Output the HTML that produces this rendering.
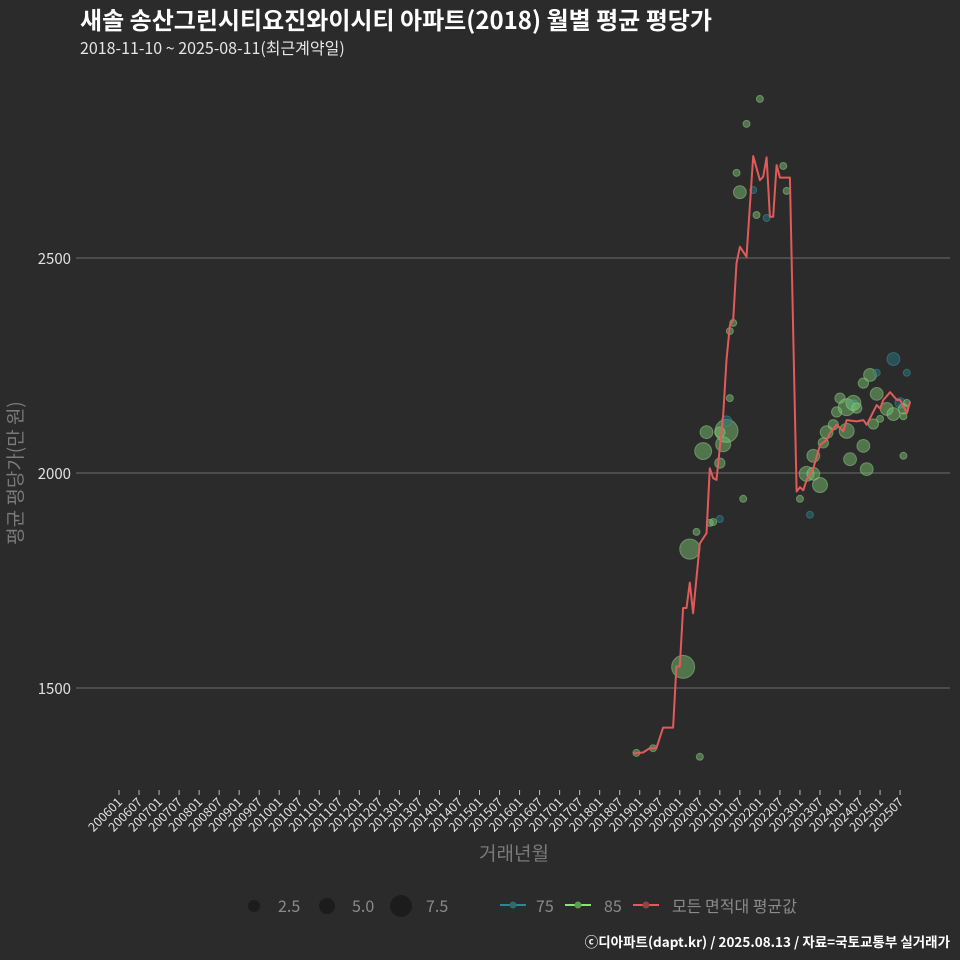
<!DOCTYPE html>
<html><head><meta charset="utf-8">
<style>
html,body{margin:0;padding:0;background:#2b2b2b;}
svg{display:block;font-family:"Noto Sans CJK KR","Liberation Sans",sans-serif;}
</style></head>
<body>
<svg id="chart" width="960" height="960" viewBox="0 0 960 960" xmlns="http://www.w3.org/2000/svg">
<rect width="960" height="960" fill="#2b2b2b"/>
<text x="80" y="29" fill="#ffffff" font-size="24" font-weight="bold">새솔 송산그린시티요진와이시티 아파트(2018) 월별 평균 평당가</text>
<text x="80" y="54" fill="#e6e6e6" font-size="16">2018-11-10 ~ 2025-08-11(최근계약일)</text>
<g id="grid"></g>
<g id="xaxis"></g>
<g id="points"></g>
<g id="line"></g>
<text transform="translate(22,473) rotate(-90)" text-anchor="middle" fill="#7a7a7a" font-size="19">평균 평당가(만 원)</text>
<text x="514" y="860" text-anchor="middle" fill="#7a7a7a" font-size="19">거래년월</text>
<g>
<circle cx="254" cy="906" r="6" fill="#1c1c1c"/>
<text x="278" y="912" fill="#8a8a8a" font-size="16">2.5</text>
<circle cx="327" cy="906" r="8" fill="#1c1c1c"/>
<text x="352" y="912" fill="#8a8a8a" font-size="16">5.0</text>
<circle cx="401" cy="906" r="11" fill="#1c1c1c"/>
<text x="426" y="912" fill="#8a8a8a" font-size="16">7.5</text>
<line x1="500" y1="905" x2="526" y2="905" stroke="#2a8a93" stroke-width="2"/>
<circle cx="513" cy="905" r="3.5" fill="#2a6e6a"/>
<text x="536" y="912" fill="#8a8a8a" font-size="16">75</text>
<line x1="565" y1="905" x2="591" y2="905" stroke="#8fe07f" stroke-width="2"/>
<circle cx="578" cy="905" r="3.5" fill="#5f9a55"/>
<text x="604" y="912" fill="#8a8a8a" font-size="16">85</text>
<line x1="633" y1="905" x2="659" y2="905" stroke="#e35a5a" stroke-width="2"/>
<circle cx="646" cy="905" r="3.5" fill="#9b3f45"/>
<text x="672" y="912" fill="#8a8a8a" font-size="16">모든 면적대 평균값</text>
</g>
<text x="950" y="947" text-anchor="end" fill="#ffffff" font-size="13.5" font-weight="bold">ⓒ디아파트(dapt.kr) / 2025.08.13 / 자료=국토교통부 실거래가</text>
</svg>
<script>
const yTicks = [1500, 2000, 2500];
const lineMonths = ["201811","201902","201904","201906","201908","201911","201912","202001","202002","202003","202004","202005","202007","202009","202010","202011","202012","202102","202103","202104","202105","202106","202107","202109","202111","202201","202202","202203","202204","202205","202206","202207","202210","202212","202301","202302","202303","202305","202307","202309","202310","202312","202402","202403","202406","202408","202409","202412","202501","202502","202504","202506","202507","202509","202510"];
const lineValues = [1348,1350,1360,1360,1408,1408,1550,1550,1686,1686,1745,1674,1836,1860,2011,1988,1984,2135,2263,2344,2356,2488,2526,2503,2737,2681,2689,2734,2596,2596,2716,2687,2687,1957,1967,1960,1984,2011,2065,2077,2093,2112,2097,2123,2120,2123,2112,2158,2150,2170,2188,2170,2170,2139,2166];
const ptMonths = ["201812","201905","202007","202002","202004","202006","202010","202011","202101","202108","202008","202009","202101","202102","202103","202103","202101","202104","202104","202105","202106","202107","202109","202201","202112","202111","202203","202208","202209","202301","202304","202303","202305","202307","202305","202308","202309","202311","202312","202401","202403","202404","202408","202409","202403","202405","202405","202406","202408","202410","202411","202412","202501","202412","202503","202505","202505","202509","202507","202508","202508","202509","202508"];
const ptValues = [1349,1360,1340,1549,1823,1863,1884,1886,1893,1940,2051,2095,2023,2067,2098,2121,2095,2174,2330,2349,2698,2653,2812,2870,2600,2658,2593,2714,2656,1940,1903,1998,1998,1972,2040,2070,2095,2112,2142,2174,2098,2032,2063,2009,2153,2158,2163,2151,2209,2228,2114,2184,2126,2233,2149,2137,2265,2233,2163,2040,2149,2163,2132];
const ptCounts = [1,1,1,9,7,1,1,1,1,1,5,3,2,4,9,2,2,1,1,1,1,3,1,1,1,1,1,1,1,1,1,4,3,4,3,2,3,2,2,2,4,3,3,3,5,2,4,2,2,3,2,3,1,1,3,3,3,1,2,1,2,1,1];
const ptTypes = ["85","85","85","85","85","85","85","85","75","85","85","85","85","85","85","75","85","85","85","85","85","85","85","85","85","75","75","85","85","85","75","85","85","85","85","85","85","85","85","85","85","85","85","85","85","75","85","85","85","85","85","85","85","75","85","85","75","75","75","85","85","85","85"];
const xTickLabels = [];
for (let y = 2006; y <= 2025; y++) { xTickLabels.push(y + "01"); xTickLabels.push(y + "07"); }

const NS = "http://www.w3.org/2000/svg";
function monthIndex(s){ return (parseInt(s.slice(0,4)) - 2006) * 12 + parseInt(s.slice(4,6)) - 1; }
function xScale(s){ return 119 + monthIndex(s) * 3.338; }
function yScale(v){ return 688 - (v - 1500) * 0.43; }
function mk(tag, attrs, parent){ const e = document.createElementNS(NS, tag); for (const k in attrs) e.setAttribute(k, attrs[k]); parent.appendChild(e); return e; }

const grid = document.getElementById("grid");
yTicks.forEach(v => {
  const l = mk("line", {x1: 76, x2: 950, y1: yScale(v), y2: yScale(v), stroke: "#6e6e6e", "stroke-width": 1}, grid);
  
  
  const t = mk("text", {x: 71, y: yScale(v) + 6, "text-anchor": "end", fill: "#e0e0e0", "font-size": 15}, grid);
  t.textContent = v;
  
  
});

const xa = document.getElementById("xaxis");
xTickLabels.forEach(s => {
  const x = xScale(s);
  const tk = mk("line", {x1: x, x2: x, y1: 790, y2: 795, stroke: "#bbbbbb", "stroke-width": 1}, xa);
  
  
  const t = mk("text", {x: x + 4, y: 803, "text-anchor": "end", fill: "#e0e0e0", "font-size": 12.5, transform: "rotate(-45 " + (x + 4) + " 803)"}, xa);
  t.textContent = s;
  
  
});

const pts = document.getElementById("points");
ptMonths.forEach((m, i) => {
  const is75 = ptTypes[i] === "75";
  const c = mk("circle", {cx: xScale(m), cy: yScale(ptValues[i]), r: 4 * Math.sqrt(ptCounts[i]) - 0.5,
    fill: is75 ? "rgba(40,120,130,0.5)" : "rgba(120,190,110,0.5)",
    stroke: is75 ? "rgba(60,150,160,0.5)" : "rgba(150,210,140,0.5)", "stroke-width": 1}, pts);
  
  
});

const lg = document.getElementById("line");
const d = lineMonths.map((m, i) => (i ? "L" : "M") + xScale(m).toFixed(1) + "," + yScale(lineValues[i]).toFixed(1)).join(" ");
const p = mk("path", {d: d, fill: "none", stroke: "#e35a5a", "stroke-width": 2, "stroke-linejoin": "round"}, lg);


</script>
</body></html>
